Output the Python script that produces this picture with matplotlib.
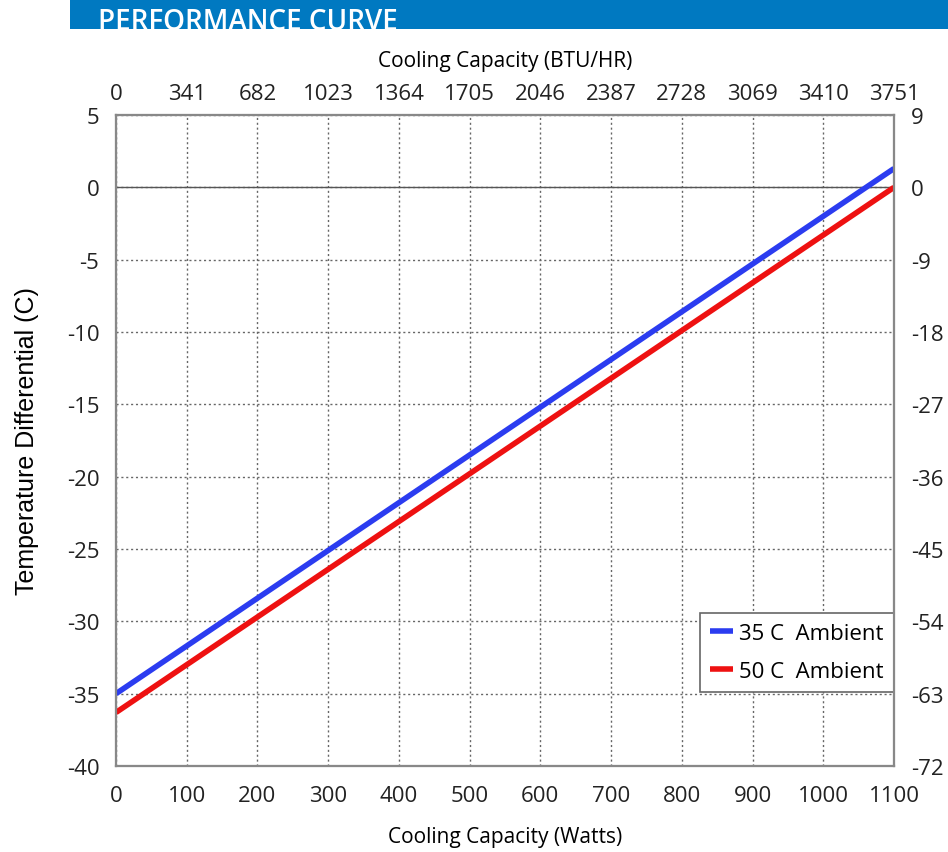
import matplotlib.pyplot as plt
import numpy as np

# Данные графика
watts = [0, 1100]
temp_35 = [-35.0, 1.3]
temp_50 = [-36.3, 0.0]
x_ticks = [0, 100, 200, 300, 400, 500, 600, 700, 800, 900, 1000, 1100]
btu_labels = ['0', '341', '682', '1023', '1364', '1705', '2046', '2387', '2728', '3069', '3410', '3751']
y_ticks = [5, 0, -5, -10, -15, -20, -25, -30, -35, -40]
y_right_labels = ['9', '0', '-9', '-18', '-27', '-36', '-45', '-54', '-63', '-72']

plt.rcParams['font.family'] = ['Open Sans', 'DejaVu Sans']
plt.rcParams['axes.unicode_minus'] = False

fig = plt.figure(figsize=(9.48, 8.53), dpi=100)
ax = fig.add_axes([116/948, 1 - 767/853, (894-116)/948, (767-116)/853])

# Шапка — отдельная область, чтобы текст обрезался по краю
banner = fig.add_axes([70/948, 1 - 30/853, 1 - 70/948, 30/853])
banner.set_facecolor('#0079c1')
banner.set_xticks([])
banner.set_yticks([])
for s in banner.spines.values():
    s.set_visible(False)
banner.text(28/878, 1 - 8/30, 'PERFORMANCE CURVE', color='white', fontsize=20, fontweight='semibold',
            ha='left', va='top', transform=banner.transAxes, clip_on=True)

ax.plot(watts, temp_35, color='#2b3cf0', lw=4, label='35 C  Ambient', solid_capstyle='butt', zorder=3)
ax.plot(watts, temp_50, color='#ee1111', lw=4, label='50 C  Ambient', solid_capstyle='butt', zorder=3)
ax.axhline(0, color='#555555', lw=1, zorder=2)

ax.set_xlim(0, 1100)
ax.set_ylim(-40, 5)
ax.set_xticks(x_ticks)
ax.set_yticks(y_ticks)
ax.grid(True, ls=(0, (1.5, 2)), color='#666666', lw=1)
for s in ax.spines.values():
    s.set_color('#888888')
    s.set_linewidth(1.5)
ax.tick_params(axis='x', length=0, labelsize=16, pad=14, colors='#222222')
ax.tick_params(axis='y', length=0, labelsize=16, pad=12, colors='#222222')

ax.set_xlabel('Cooling Capacity (Watts)', fontsize=15, labelpad=14)
ax.set_ylabel('Temperature Differential (C)', fontsize=18, labelpad=20,
              family=['Liberation Sans', 'DejaVu Sans'])

top = ax.twiny()
top.set_xlim(ax.get_xlim())
top.set_xticks(x_ticks)
top.set_xticklabels(btu_labels)
top.tick_params(length=0, labelsize=16, pad=8, colors='#222222')
top.set_xlabel('Cooling Capacity (BTU/HR)', fontsize=15, labelpad=12)

right = ax.twinx()
right.set_ylim(ax.get_ylim())
right.set_yticks(y_ticks)
right.set_yticklabels(y_right_labels)
right.tick_params(length=0, labelsize=16, pad=12, colors='#222222')
for a in (top, right):
    for s in a.spines.values():
        s.set_color('#888888')
        s.set_linewidth(1.5)

leg = ax.legend(loc='lower right', bbox_to_anchor=(1.0, 0.114), borderaxespad=0, fontsize=16,
                frameon=True, fancybox=False, edgecolor='#666666', handlelength=1.0,
                handletextpad=0.3, borderpad=0.45, labelspacing=0.75, framealpha=1)
leg.get_frame().set_linewidth(1.2)

fig.savefig('out.png', dpi=100)
